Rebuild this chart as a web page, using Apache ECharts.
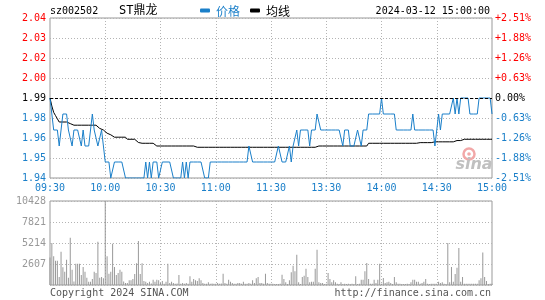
<!DOCTYPE html>
<html><head><meta charset="utf-8">
<script src="https://cdn.jsdelivr.net/npm/echarts@6/dist/echarts.min.js"></script>
<style>html,body{margin:0;padding:0;background:#fff}#c{width:545px;height:300px}</style>
</head><body><div id="c"></div>
<script>
const prevClose = 1.99;
const priceStep = 0.0125;
const timeLabels = ['09:30','10:00','10:30','11:00','11:30','13:30','14:00','14:30','15:00'];
const priceLabels = ['1.94','1.95','1.96','1.98','1.99','2.00','2.02','2.03','2.04'];
const pctLabels = ['-2.51%','-1.88%','-1.26%','-0.63%','0.00%','+0.63%','+1.26%','+1.88%','+2.51%'];
const volLabels = ['','2607','5214','7821','10428'];
const volMax = 10428;
const volStep = 2607;

const price = [
1.99,1.98,1.97,1.97,1.97,1.96,1.97,1.98,1.98,1.98,
1.97,1.97,1.96,1.97,1.97,1.97,1.97,1.96,1.97,1.96,
1.96,1.96,1.97,1.98,1.97,1.97,1.96,1.96,1.97,1.97,
1.95,1.95,1.95,1.94,1.94,1.95,1.95,1.95,1.95,1.95,
1.95,1.94,1.94,1.94,1.94,1.94,1.94,1.94,1.94,1.94,
1.94,1.94,1.95,1.94,1.95,1.94,1.95,1.95,1.95,1.94,
1.94,1.95,1.95,1.95,1.95,1.95,1.95,1.94,1.94,1.94,
1.94,1.94,1.95,1.94,1.95,1.94,1.95,1.95,1.95,1.95,
1.95,1.95,1.95,1.95,1.94,1.94,1.94,1.95,1.95,1.95,
1.95,1.95,1.95,1.95,1.95,1.95,1.95,1.95,1.95,1.95,
1.95,1.95,1.95,1.95,1.95,1.95,1.95,1.95,1.96,1.96,
1.95,1.95,1.95,1.95,1.95,1.95,1.95,1.95,1.95,1.95,
1.95,
1.95,1.95,1.95,1.96,1.96,1.95,1.95,1.95,1.95,1.96,
1.95,1.96,1.96,1.97,1.96,1.97,1.97,1.97,1.97,1.97,
1.96,1.97,1.97,1.97,1.98,1.98,1.97,1.97,1.97,1.97,
1.97,1.97,1.97,1.97,1.97,1.97,1.97,1.97,1.96,1.97,
1.97,1.97,1.96,1.96,1.96,1.96,1.97,1.97,1.96,1.97,
1.97,1.97,1.98,1.98,1.98,1.98,1.98,1.98,1.98,1.99,
1.98,1.98,1.98,1.98,1.98,1.98,1.98,1.97,1.97,1.97,
1.97,1.97,1.97,1.97,1.97,1.97,1.98,1.97,1.97,1.97,
1.97,1.97,1.97,1.97,1.97,1.97,1.97,1.97,1.96,1.97,
1.98,1.97,1.98,1.98,1.98,1.98,1.98,1.98,1.99,1.98,
1.99,1.98,1.99,1.99,1.99,1.99,1.99,1.98,1.98,1.98,
1.98,1.98,1.99,1.99,1.99,1.99,1.99,1.99,1.99,1.98
];

const avgPrice = [
1.990,1.985,1.981,1.979,1.977,1.975,1.974,1.975,1.975,1.975,
1.974,1.974,1.973,1.973,1.973,1.973,1.973,1.973,1.973,1.973,
1.973,1.973,1.973,1.973,1.973,1.973,1.972,1.971,1.971,1.970,
1.969,1.968,1.968,1.967,1.966,1.9655,1.9655,1.9655,1.9655,1.9655,
1.9655,1.9655,1.9642,1.9642,1.9642,1.9642,1.9642,1.963,1.9622,1.9617,
1.9617,1.9617,1.9617,1.9617,1.9617,1.9617,1.9617,1.9617,1.960,1.960,
1.960,1.960,1.960,1.960,1.960,1.960,1.960,1.960,1.960,1.960,
1.960,1.960,1.960,1.960,1.960,1.960,1.960,1.960,1.960,1.960,
1.9592,1.9592,1.9592,1.9592,1.9592,1.9592,1.9592,1.9592,1.9592,1.9592,
1.9592,1.9592,1.9592,1.9592,1.9592,1.9592,1.9592,1.9592,1.9592,1.9592,
1.9592,1.9592,1.9592,1.9592,1.9592,1.9592,1.9592,1.9592,1.9592,1.9592,
1.9592,1.9592,1.9592,1.9592,1.9592,1.9592,1.9592,1.9592,1.9592,1.9592,
1.9592,
1.9592,1.9592,1.9592,1.9592,1.9592,1.9592,1.9592,1.9592,1.9592,1.9592,
1.9592,1.9592,1.9592,1.9592,1.9592,1.9592,1.9592,1.9592,1.9592,1.9592,
1.9592,1.9592,1.9592,1.9592,1.960,1.960,1.960,1.960,1.960,1.960,
1.960,1.960,1.960,1.960,1.960,1.960,1.960,1.960,1.960,1.960,
1.960,1.960,1.960,1.960,1.960,1.960,1.960,1.960,1.960,1.960,
1.960,1.960,1.9617,1.9617,1.9617,1.9617,1.9617,1.9617,1.9617,1.9617,
1.9617,1.9617,1.9617,1.9617,1.9617,1.9617,1.9617,1.9617,1.9617,1.9617,
1.9617,1.9617,1.9617,1.9617,1.9617,1.9617,1.9617,1.9617,1.9617,1.9617,
1.9621,1.9621,1.9621,1.9621,1.9621,1.9621,1.9621,1.9621,1.9626,1.9626,
1.9626,1.9626,1.9626,1.9626,1.9626,1.9626,1.9626,1.9626,1.9626,1.9626,
1.9634,1.9634,1.9634,1.9642,1.9642,1.9642,1.9642,1.9642,1.9642,1.9642,
1.9642,1.9642,1.9642,1.9642,1.9642,1.9642,1.9642,1.9642,1.9642,1.9642
];

const volume = [
3400,5200,3560,3000,3000,1000,4140,2200,1650,3150,
900,5880,1900,450,2650,2650,2650,1240,2240,1650,
900,400,400,750,1650,1500,5380,900,1000,830,
10428,3560,1400,1650,5130,2240,1240,1500,1900,1650,
450,250,250,580,580,750,1360,2700,5460,1360,
2690,500,400,250,400,200,660,400,660,580,
250,500,165,400,2650,250,400,250,165,200,
1240,165,250,165,250,165,1100,400,750,580,
500,830,580,250,165,165,330,165,200,165,
165,250,165,200,1400,250,165,660,400,250,
165,165,250,250,165,400,165,165,250,165,
580,250,830,1000,250,250,165,1400,250,165,
165,
165,120,120,120,165,1280,750,330,120,580,
1570,2400,1700,3770,330,120,1000,1160,2030,1000,
330,400,400,2030,4390,330,250,250,120,165,
1490,750,330,580,330,165,120,330,120,165,
120,165,120,165,120,1080,120,165,660,660,
1700,2730,750,165,165,660,250,660,2650,165,
870,250,330,400,250,120,1000,330,165,165,
120,120,120,165,120,330,660,660,400,400,
165,250,400,750,165,120,165,165,165,165,
400,250,330,165,120,5220,330,2240,400,1370,
2150,4600,400,1000,165,165,165,165,165,165,
165,165,580,830,4020,1000,500,120,165,165
];

const RED = '#ff0000', BLUE = '#1a7fc9', GRAY = '#999999', GRID = '#b4b4b4';
const MONO = '"DejaVu Sans Mono", monospace';
const idx = price.map((_, i) => String(i));
const lblColor = v => { const k = Math.round(v); return k > 0 ? RED : (k < 0 ? BLUE : '#000'); };
const dotted = { color: GRID, type: [1, 2], width: 1 };
const vLine = i => i % 30 === 0 && i > 0 && i < price.length - 1;

const chart = echarts.init(document.getElementById('c'), null, { renderer: 'canvas' });
chart.setOption({
  animation: false,
  backgroundColor: '#fff',
  grid: [
    { left: 50, top: 18, width: 442, height: 160, show: true, borderColor: GRAY, borderWidth: 1 },
    { left: 50, top: 201, width: 442, height: 84, show: true, borderColor: GRAY, borderWidth: 1 }
  ],
  xAxis: [
    { type: 'category', gridIndex: 0, data: idx, boundaryGap: false,
      axisLine: { show: false }, axisTick: { show: false },
      axisLabel: { interval: i => i % 30 === 0, formatter: (v, i) => timeLabels[Math.round(i / 30)],
        color: BLUE, fontFamily: MONO, fontSize: 10, margin: 5 },
      splitLine: { show: true, interval: vLine, lineStyle: dotted } },
    { type: 'category', gridIndex: 1, data: idx, boundaryGap: false,
      axisLine: { show: false }, axisTick: { show: false }, axisLabel: { show: false },
      splitLine: { show: true, interval: vLine, lineStyle: dotted } }
  ],
  yAxis: [
    { type: 'value', gridIndex: 0, min: -4, max: 4, interval: 1, position: 'left',
      axisLine: { show: false }, axisTick: { show: false },
      axisLabel: { formatter: v => priceLabels[Math.round(v) + 4], color: lblColor, fontFamily: MONO, fontSize: 10, margin: 4 },
      splitLine: { show: true, lineStyle: dotted } },
    { type: 'value', gridIndex: 0, min: -4, max: 4, interval: 1, position: 'right',
      axisLine: { show: false }, axisTick: { show: false },
      axisLabel: { formatter: v => pctLabels[Math.round(v) + 4], color: lblColor, fontFamily: MONO, fontSize: 10, margin: 3 },
      splitLine: { show: false } },
    { type: 'value', gridIndex: 1, min: 0, max: volMax, interval: volStep, position: 'left',
      axisLine: { show: false }, axisTick: { show: false },
      axisLabel: { formatter: v => volLabels[Math.round(v / volStep)], color: GRAY, fontFamily: MONO, fontSize: 10, margin: 4 },
      splitLine: { show: true, lineStyle: dotted } }
  ],
  series: [
    { type: 'line', xAxisIndex: 0, yAxisIndex: 0, data: price.map(p => (p - prevClose) / priceStep),
      showSymbol: false, symbol: 'none', lineStyle: { color: BLUE, width: 1 }, z: 3,
      markLine: { silent: true, symbol: 'none', label: { show: false },
        lineStyle: { color: '#000', type: [3, 2], width: 1 }, data: [{ yAxis: 0 }] } },
    { type: 'line', xAxisIndex: 0, yAxisIndex: 0, data: avgPrice.map(p => (p - prevClose) / priceStep),
      showSymbol: false, symbol: 'none', lineStyle: { color: '#000', width: 1 }, z: 2 },
    { type: 'bar', xAxisIndex: 1, yAxisIndex: 2, data: volume, barWidth: 1,
      itemStyle: { color: GRAY } }
  ],
  graphic: [
    { type: 'text', style: { text: 'sz002502', x: 50, y: 11, fill: '#000', font: '10px ' + MONO, textVerticalAlign: 'middle', verticalAlign: 'middle' } },
    { type: 'text', style: { text: 'ST鼎龙', x: 119, y: 11, fill: '#000', font: '12px "DejaVu Sans Mono", "Noto Sans CJK SC"', textVerticalAlign: 'middle', verticalAlign: 'middle' } },
    { type: 'rect', shape: { x: 200, y: 8.5, width: 10, height: 4, r: 1 }, style: { fill: BLUE } },
    { type: 'text', style: { text: '价格', x: 216, y: 11, fill: BLUE, font: '12px "Noto Sans CJK SC"', textVerticalAlign: 'middle', verticalAlign: 'middle' } },
    { type: 'rect', shape: { x: 250, y: 8.5, width: 10, height: 4, r: 1 }, style: { fill: '#000' } },
    { type: 'text', style: { text: '均线', x: 266, y: 11, fill: '#000', font: '12px "Noto Sans CJK SC"', textVerticalAlign: 'middle', verticalAlign: 'middle' } },
    { type: 'text', style: { text: '2024-03-12 15:00:00', x: 490, y: 11, fill: '#000', font: '10px ' + MONO, textAlign: 'right', align: 'right', textVerticalAlign: 'middle', verticalAlign: 'middle' } },
    { type: 'text', style: { text: 'Copyright 2024 SINA.COM', x: 50, y: 293, fill: '#555', font: '10px ' + MONO, textVerticalAlign: 'middle', verticalAlign: 'middle' } },
    { type: 'text', style: { text: 'http://finance.sina.com.cn', x: 491, y: 293, fill: '#555', font: '10px ' + MONO, textAlign: 'right', align: 'right', textVerticalAlign: 'middle', verticalAlign: 'middle' } },
    { type: 'circle', shape: { cx: 469, cy: 154, r: 5.5 }, style: { fill: 'none', stroke: '#f2a8a8', lineWidth: 2.5 }, z: 1 },
    { type: 'circle', shape: { cx: 469, cy: 154, r: 1.8 }, style: { fill: '#f2a8a8' }, z: 1 },
    { type: 'text', style: { text: 'sina', x: 474, y: 165, fill: '#c0c0c0', font: 'italic bold 16px "DejaVu Sans"', textAlign: 'center', align: 'center', textVerticalAlign: 'middle', verticalAlign: 'middle' }, z: 1 }
  ]
});
</script>
</body></html>
